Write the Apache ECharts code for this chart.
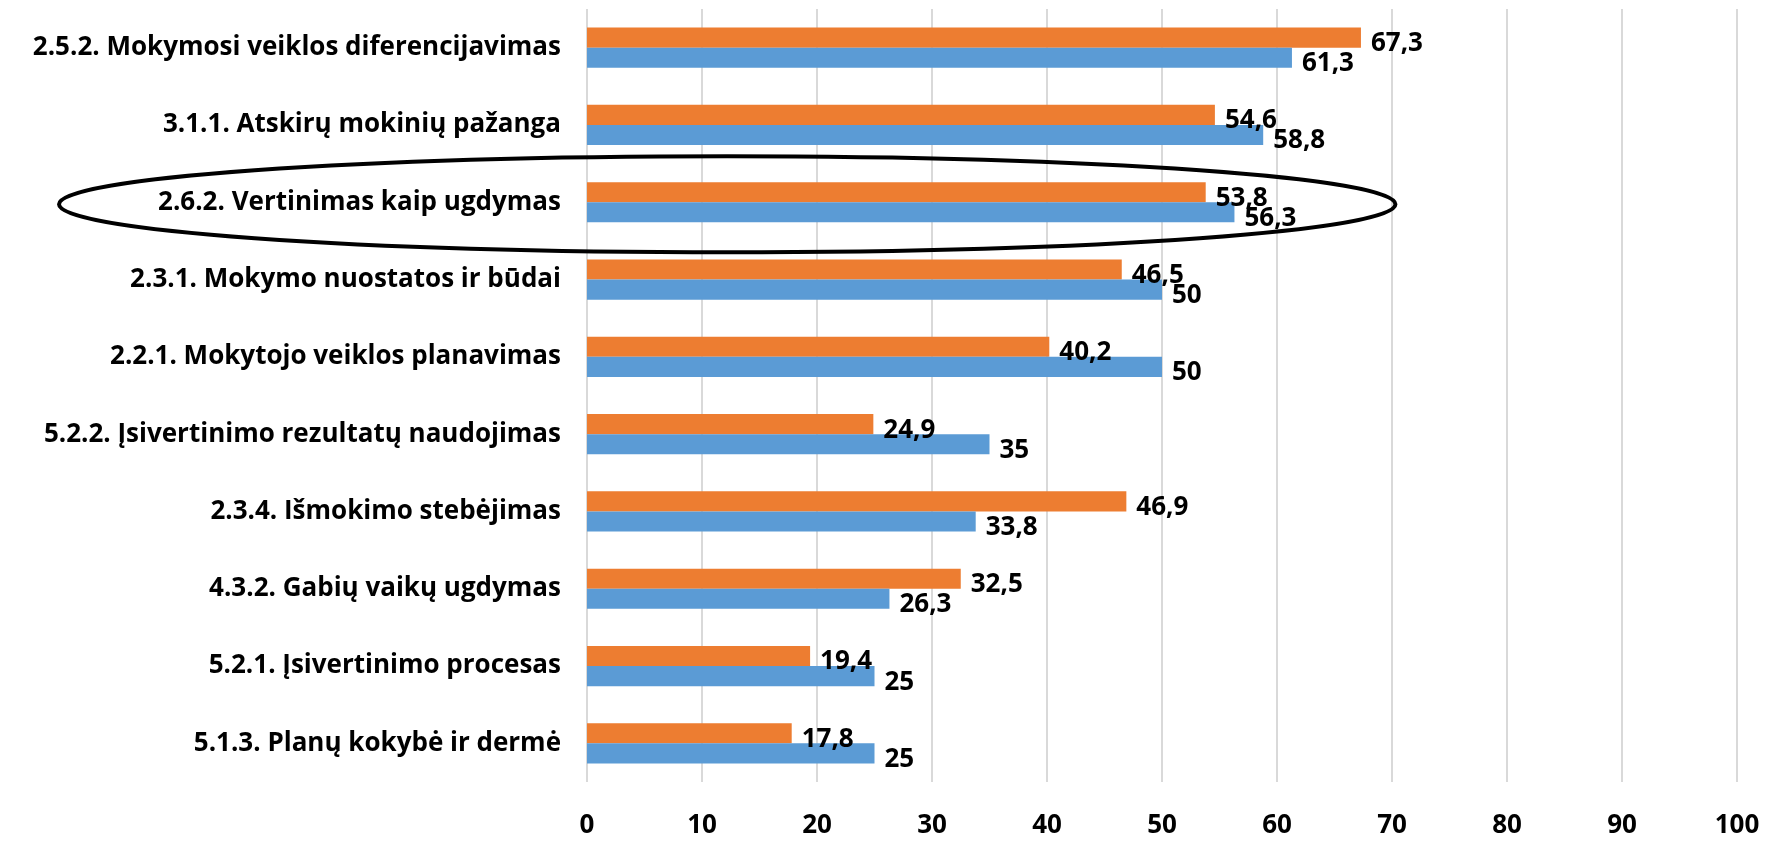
<!DOCTYPE html>
<html>
<head>
<meta charset="utf-8">
<script src="https://cdn.jsdelivr.net/npm/echarts@6/dist/echarts.min.js"></script>
<style>
  html, body { margin: 0; padding: 0; background: #fff; }
  #chart { width: 1777px; height: 841px; }
</style>
</head>
<body>
<div id="chart"></div>
<script>
const categories = [
  "2.5.2. Mokymosi veiklos diferencijavimas",
  "3.1.1. Atskirų mokinių pažanga",
  "2.6.2. Vertinimas kaip ugdymas",
  "2.3.1. Mokymo nuostatos ir būdai",
  "2.2.1. Mokytojo veiklos planavimas",
  "5.2.2. Įsivertinimo rezultatų naudojimas",
  "2.3.4. Išmokimo stebėjimas",
  "4.3.2. Gabių vaikų ugdymas",
  "5.2.1. Įsivertinimo procesas",
  "5.1.3. Planų kokybė ir dermė"
];
const orangeValues = [67.3, 54.6, 53.8, 46.5, 40.2, 24.9, 46.9, 32.5, 19.4, 17.8];
const blueValues = [61.3, 58.8, 56.3, 50, 50, 35, 33.8, 26.3, 25, 25];
const xTicks = [0, 100, 10];
const highlighted = "2.6.2. Vertinimas kaip ugdymas";

const font = "'Open Sans', sans-serif";
const fmt = (p) => String(p.value).replace(".", ",");

const chart = echarts.init(document.getElementById("chart"));
const labelStyle = {
  show: true,
  position: "right",
  formatter: fmt,
  color: "#000",
  fontFamily: font,
  fontWeight: "bold",
  fontSize: 26,
  distance: 10,
  offset: [0, 6]
};
chart.setOption({
  animation: false,
  grid: { left: 587, right: 40, top: 9, bottom: 59, containLabel: false },
  xAxis: {
    type: "value",
    min: xTicks[0],
    max: xTicks[1],
    interval: xTicks[2],
    axisLine: { show: false },
    axisTick: { show: false },
    splitLine: { lineStyle: { color: "#d9d9d9", width: 2 } },
    axisLabel: {
      color: "#000",
      fontFamily: font,
      fontWeight: "bold",
      fontSize: 26,
      margin: 31
    }
  },
  yAxis: {
    type: "category",
    inverse: true,
    data: categories,
    axisLine: { show: false },
    axisTick: { show: false },
    axisLabel: {
      color: "#000",
      fontFamily: font,
      fontWeight: "bold",
      fontSize: 26,
      margin: 26
    }
  },
  series: [
    {
      type: "bar",
      data: orangeValues,
      barGap: "0%",
      barCategoryGap: "48%",
      itemStyle: { color: "#ed7d31" },
      label: labelStyle
    },
    {
      type: "bar",
      data: blueValues,
      barGap: "0%",
      barCategoryGap: "48%",
      itemStyle: { color: "#5b9bd5" },
      label: labelStyle
    }
  ]
});

// ellipse annotation around the highlighted category
const cy = chart.convertToPixel({ yAxisIndex: 0 }, highlighted);
const xRight = chart.convertToPixel({ xAxisIndex: 0 }, 70.3);
const xLeft = 59;
chart.setOption({
  graphic: [{
    type: "ellipse",
    shape: { cx: (xLeft + xRight) / 2, cy: cy + 2, rx: (xRight - xLeft) / 2, ry: 48 },
    style: { fill: null, stroke: "#000", lineWidth: 4 },
    z: 10
  }]
});
</script>
</body>
</html>
